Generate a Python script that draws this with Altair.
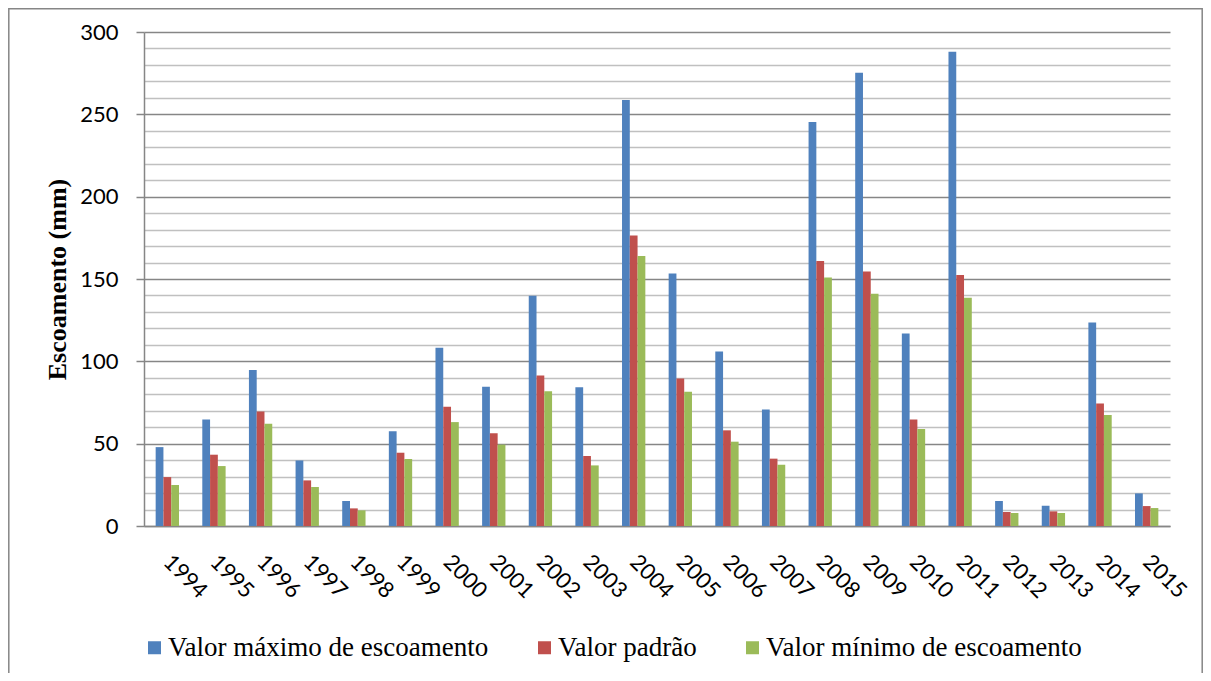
import altair as alt
import pandas as pd

YEARS = ["1994", "1995", "1996", "1997", "1998", "1999", "2000", "2001", "2002", "2003", "2004",
         "2005", "2006", "2007", "2008", "2009", "2010", "2011", "2012", "2013", "2014", "2015"]
SERIES = ["Valor máximo de escoamento", "Valor padrão", "Valor mínimo de escoamento"]
MAX_VALS = [47.9, 64.7, 94.7, 39.8, 15.2, 57.6, 108.2, 84.5, 139.8, 84.3, 258.7,
            153.3, 106.0, 70.8, 245.3, 275.3, 116.9, 288.0, 15.2, 12.3, 123.6, 19.8]
STD_VALS = [29.7, 43.3, 69.6, 27.7, 10.7, 44.5, 72.4, 56.4, 91.4, 42.5, 176.4,
            89.6, 58.1, 40.9, 161.0, 154.5, 64.7, 152.5, 8.5, 8.9, 74.4, 12.1]
MIN_VALS = [24.9, 36.4, 62.1, 23.7, 9.5, 40.7, 63.1, 49.4, 81.9, 36.8, 164.0,
            81.5, 51.2, 37.2, 150.9, 141.0, 58.9, 138.6, 7.9, 7.9, 67.4, 10.9]
Y_GRID = [0, 10, 20, 30, 40, 50, 60, 70, 80, 90, 100, 110, 120, 130, 140, 150,
          160, 170, 180, 190, 200, 210, 220, 230, 240, 250, 260, 270, 280, 290, 300]
COLORS = ["#4F81BD", "#C0504D", "#9BBB59"]

rows = []
for name, vals in zip(SERIES, [MAX_VALS, STD_VALS, MIN_VALS]):
    for yr, v in zip(YEARS, vals):
        rows.append({"Ano": yr, "Série": name, "Valor": v})
df = pd.DataFrame(rows)

major = "datum.value % 50 === 0"

bars = alt.Chart(df).mark_bar().encode(
    x=alt.X("Ano:N", sort=YEARS,
            scale=alt.Scale(paddingInner=0.5, paddingOuter=0.25),
            axis=alt.Axis(title=None, labelAngle=45, labelAlign="left", labelBaseline="middle",
                          labelPadding=32, ticks=False, grid=False, labelOverlap=False,
                          labelFont="Lato", labelFontSize=22, labelColor="black",
                          domainColor="#868686", domainWidth=1.5)),
    xOffset=alt.XOffset("Série:N", sort=SERIES, scale=alt.Scale(paddingInner=0, paddingOuter=0)),
    y=alt.Y("Valor:Q", scale=alt.Scale(domain=[0, 300], nice=False),
            axis=alt.Axis(values=Y_GRID, title="Escoamento (mm)",
                          labelExpr=major + " ? datum.label : ''", labelOverlap=False,
                          labelFont="Lato", labelFontSize=22, labelColor="black",
                          labelPadding=18, tickSize=8, tickWidth=1.5,
                          tickColor=alt.condition(major, alt.value("#868686"), alt.value("transparent")),
                          grid=True, gridWidth=1.5,
                          gridColor=alt.condition(major, alt.value("#868686"), alt.value("#C0C0C0")),
                          domainColor="#868686", domainWidth=1.5,
                          titleFont="Liberation Serif", titleFontSize=26, titleFontWeight="bold",
                          titleColor="black", titleAngle=270, titleAlign="center",
                          titleBaseline="middle", titleX=-87, titleY=247)),
    color=alt.Color("Série:N", sort=SERIES,
                    scale=alt.Scale(domain=SERIES, range=COLORS),
                    legend=alt.Legend(title=None, orient="none", legendX=-3, legendY=602,
                                      direction="horizontal", columns=3, symbolType="square",
                                      symbolSize=169, symbolStrokeWidth=0, symbolOpacity=1,
                                      labelFont="Liberation Serif", labelFontSize=27,
                                      labelColor="black", labelLimit=0, labelOffset=0,
                                      columnPadding=42, padding=0)),
)

frame = alt.Chart(pd.DataFrame({"f": [0]})).mark_rect(
    fillOpacity=0, stroke="#868686", strokeWidth=1.5
).encode(
    x=alt.value(-135.2), x2=alt.value(1026 + 32.2),
    y=alt.value(-23.2), y2=alt.value(800)
)

chart = alt.layer(frame, bars).properties(
    width=1026, height=494,
    autosize=alt.AutoSizeParams(type="none"),
    padding={"left": 136, "top": 24, "right": 33, "bottom": 147},
    background="white",
).configure_view(strokeWidth=0)

chart.save("out.html", embed_options={"renderer": "svg", "actions": False})
